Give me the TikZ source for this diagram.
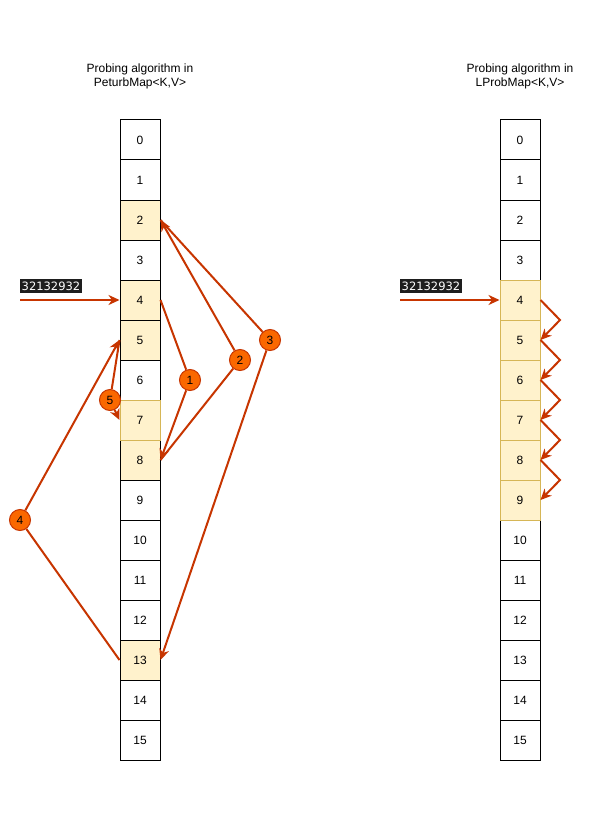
\documentclass[tikz,border=0pt]{standalone}
\usepackage{fontspec}
\setmainfont{Liberation Sans}
\newfontfamily\keyfont{DejaVu Sans}
\usetikzlibrary{arrows.meta}

\definecolor{probeline}{HTML}{C73500}
\definecolor{probefill}{HTML}{FA6800}
\definecolor{slotfill}{HTML}{FFF2CC}
\definecolor{slotedge}{HTML}{D6B656}
\definecolor{keybg}{HTML}{1E1E1E}

\tikzset{
	slot/.style={draw=black, line width=1pt, minimum width=40, minimum height=40, inner sep=0pt, font=\fontsize{12}{14}\selectfont},
	hit/.style={slot, fill=slotfill},
	hitedge/.style={hit, draw=slotedge},
	stepnum/.style={circle, draw=probeline, fill=probefill, line width=1pt, minimum size=21, inner sep=0pt, font=\fontsize{12}{14}\selectfont},
	probe/.style={draw=probeline, line width=2pt, -{Stealth[length=11pt,width=10pt,inset=3.5pt]}},
	keylabel/.style={fill=keybg, text=white, font=\keyfont\fontsize{11.5}{14}\selectfont, inner xsep=1.5pt, inner ysep=3pt},
	title/.style={align=center, font=\fontsize{12}{14}\selectfont}
}

\begin{document}
\begin{tikzpicture}[x=1pt,y=-1pt]
	\useasboundingbox[fill=white] (0,0) rectangle (602,821);
	
	%titles
	\node[title] (tl) at (140,76) {Probing algorithm in\\PeturbMap<K,V>};
	\node[title] (tr) at (520,76) {Probing algorithm in\\LProbMap<K,V>};
	
	%left table
	\foreach \i/\s in {0/slot,1/slot,2/hit,3/slot,4/hit,5/hit,6/slot,8/hit,9/slot,10/slot,11/slot,12/slot,13/hit,14/slot,15/slot,7/hitedge}{
		\node[\s] (L\i) at (140,{140+40*\i}) {\i};
	}
	
	%right table
	\foreach \i/\s in {0/slot,1/slot,2/slot,3/slot,10/slot,11/slot,12/slot,13/slot,14/slot,15/slot,4/hitedge,5/hitedge,6/hitedge,7/hitedge,8/hitedge,9/hitedge}{
		\node[\s] (R\i) at (520,{140+40*\i}) {\i};
	}
	
	%hash keys
	\node[keylabel] (k1) at (51,286) {32132932};
	\node[keylabel] (k2) at (431,286) {32132932};
	\coordinate (in1) at (20,300);
	\coordinate (in2) at (400,300);
	\draw[probe] (in1) -- (L4.west);
	\draw[probe] (in2) -- (R4.west);
	
	%probe steps
	\node[stepnum] (n1) at (190,380) {1};
	\node[stepnum] (n2) at (240,360) {2};
	\node[stepnum] (n3) at (270,340) {3};
	\node[stepnum] (n4) at (20,520) {4};
	\node[stepnum] (n5) at (110,400) {5};
	
	\draw[probe] (L4.east) -- (n1) -- (L8.east);
	\draw[probe] (L8.east) -- (n2) -- (L2.east);
	\draw[probe] (L2.east) -- (n3) -- (L13.east);
	\draw[probe] (L13.west) -- (n4) -- (L5.west);
	\draw[probe] (L5.west) -- (n5) -- (L7.west);
	
	%linear probing
	\foreach \i in {4,...,8}{
		\pgfmathtruncatemacro{\j}{\i+1}
		\coordinate (z\i) at (560,{160+40*\i});
		\draw[probe] (R\i.east) -- (z\i) -- (R\j.east);
	}
\end{tikzpicture}
\end{document}
